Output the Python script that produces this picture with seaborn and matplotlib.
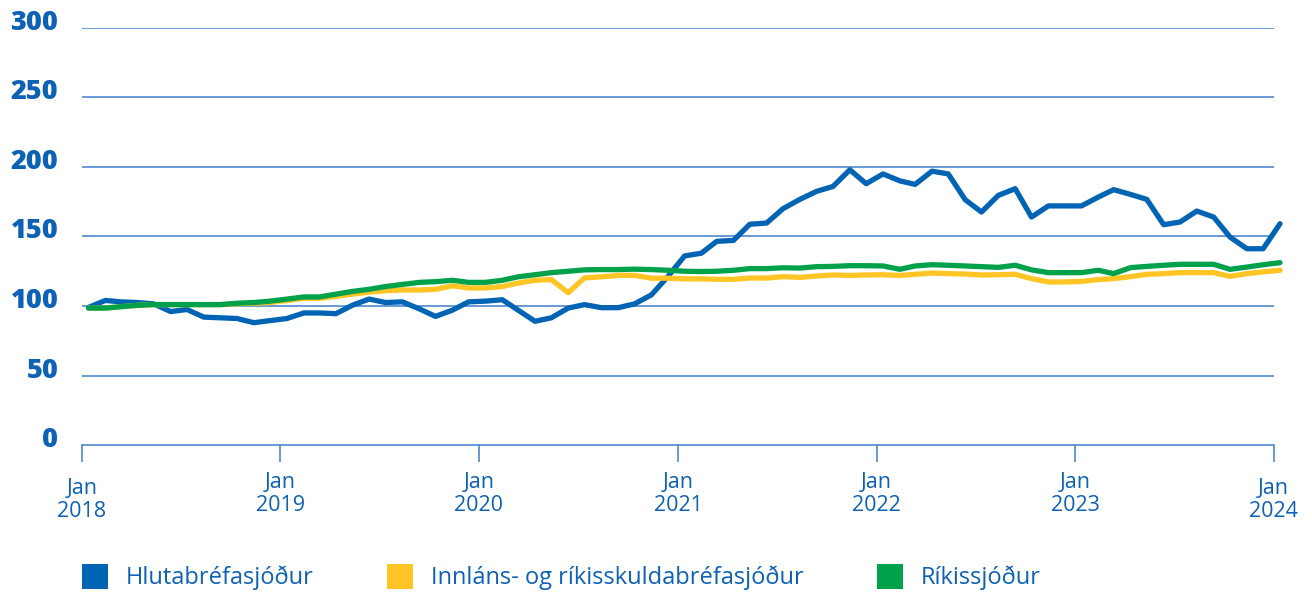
import numpy as np
import pandas as pd
import matplotlib
matplotlib.use("Agg")
import matplotlib.pyplot as plt
from matplotlib.patches import Patch
from matplotlib.transforms import ScaledTranslation
import seaborn as sns

# ---------------- data ----------------
series_names = ["Hlutabréfasjóður", "Innláns- og ríkisskuldabréfasjóður", "Ríkissjóður"]

hlutabref = [99, 104, 103, 102.5, 101.5, 96, 97.5, 92, 91.5, 91, 88, 89.5,
             91, 95, 95, 94.5, 100.5, 105, 102.5, 103, 98, 92.5, 97, 103,
             103.5, 104.5, 97, 89, 91.5, 98.5, 101, 98.8, 98.8, 101.5, 108, 121,
             136, 138, 146.5, 147.2, 158.8, 159.7, 170, 176.7, 182.5, 186, 198, 188,
             195, 190, 187.5, 197, 195, 176.5, 167.6, 179.6, 184.4, 164, 172, 172,
             172, 178.4, 183.7, 180.3, 176.7, 158.5, 160.4, 168.3, 164, 149.6, 141.2, 141.2,
             159.2]

innlans = [98.5, 98.5, 99.5, 100.5, 101, 101, 101, 101, 101, 101.5, 102, 102.5,
           104, 105.5, 105.5, 107, 108.5, 110, 111, 111.5, 111.5, 112, 114.5, 113,
           113, 114, 116.5, 118.5, 119, 109.6, 120.2, 121, 122, 122, 120, 120,
           119.5, 119.5, 119.2, 119.2, 120.1, 120.1, 121.1, 120.6, 121.6, 122.3, 122, 122.3,
           122.5, 122, 122.8, 123.7, 123.3, 123, 122.3, 122.5, 122.8, 119.7, 117.3, 117.3,
           117.7, 119, 119.7, 121.1, 122.8, 123.3, 124, 124, 124, 121.3, 123.3, 124.5,
           125.7]

rikissjodur = [98.5, 98.5, 99.5, 100.5, 101, 101, 101, 101, 101, 102, 102.5, 103.5,
               105, 106.5, 106.5, 108.5, 110.5, 112, 114, 115.5, 117, 117.5, 118.5, 117,
               117, 118.5, 121, 122.5, 124, 125, 126, 126.2, 126.2, 126.5, 126.2, 125.7,
               125, 124.8, 125, 125.7, 126.9, 126.9, 127.5, 127.3, 128.3, 128.5, 129, 129,
               128.8, 126.4, 128.8, 129.7, 129.3, 128.8, 128.3, 127.8, 129.3, 126, 124, 124,
               124, 125.7, 123.3, 127.6, 128.5, 129.3, 130, 130, 130, 126.4, 128, 129.7,
               131.2]

dates = pd.date_range("2018-01-01", periods=73, freq="MS") + pd.Timedelta(days=12)

y_ticks = [0, 50, 100, 150, 200, 250, 300]
x_tick_years = [2018, 2019, 2020, 2021, 2022, 2023, 2024]
x_tick_labels = [f"Jan\n{y}" for y in x_tick_years]

colors = ["#0064b4", "#fec524", "#00a14b"]
text_blue = "#0d62b6"
grid_blue = "#3f7fca"

df = pd.DataFrame({
    "date": np.tile(dates, 3),
    "value": hlutabref + innlans + rikissjodur,
    "series": np.repeat(series_names, len(dates)),
})

# ---------------- plot ----------------
sns.set_theme(style="white")
plt.rcParams["font.family"] = ["Open Sans", "DejaVu Sans"]

fig = plt.figure(figsize=(13.12, 5.94), dpi=100)
ax = fig.add_axes([82 / 1312, 1 - 445 / 594, (1273.5 - 82) / 1312, (445 - 28) / 594])

sns.lineplot(data=df, x="date", y="value", hue="series", hue_order=series_names,
             palette=colors, linewidth=3.8, ax=ax, legend=False, clip_on=False,
             solid_capstyle="round", solid_joinstyle="round")

ax.set_xlim(pd.Timestamp("2018-01-01"), pd.Timestamp("2024-01-01"))
ax.set_ylim(0, 300)
ax.set_xlabel("")
ax.set_ylabel("")

for y in y_ticks[1:]:
    ax.axhline(y, color=grid_blue, lw=1.1, zorder=0)

for s in ["top", "right", "left"]:
    ax.spines[s].set_visible(False)
ax.spines["bottom"].set_color(grid_blue)
ax.spines["bottom"].set_linewidth(1.1)

ax.set_xticks([pd.Timestamp(f"{y}-01-01") for y in x_tick_years])
ax.set_xticklabels(x_tick_labels, fontsize=15.5, color=text_blue, linespacing=1.15)
ax.tick_params(axis="x", direction="out", length=12.5, width=1.1, color=grid_blue,
               pad=7, bottom=True)

ax.set_yticks(y_ticks)
ax.set_yticklabels([str(v) for v in y_ticks], fontsize=19.5, fontweight="heavy", color=text_blue)
ax.tick_params(axis="y", length=0, pad=17, left=True)

up = ScaledTranslation(0, 8 / 100, fig.dpi_scale_trans)
for lbl in ax.get_yticklabels():
    lbl.set_transform(lbl.get_transform() + up)

down = ScaledTranslation(0, -6 / 100, fig.dpi_scale_trans)
xl = ax.get_xticklabels()
for lbl in (xl[0], xl[-1]):
    lbl.set_transform(lbl.get_transform() + down)

handles = [Patch(facecolor=c, edgecolor="none") for c in colors]
leg = fig.legend(handles, series_names, loc="center left",
                 bbox_to_anchor=(82 / 1312, 1 - 577 / 594), ncol=3, frameon=False,
                 fontsize=17, handlelength=1.1, handleheight=1.23,
                 handletextpad=0.76, columnspacing=3.1, borderpad=0, borderaxespad=0)
for t in leg.get_texts():
    t.set_color(text_blue)

fig.savefig("out.png", dpi=100)
